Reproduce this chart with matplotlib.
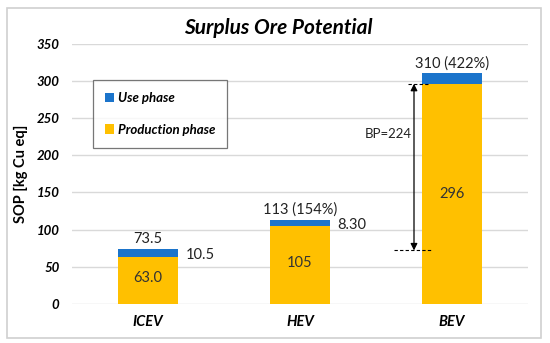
import matplotlib
matplotlib.use("Agg")
import matplotlib.pyplot as plt
from matplotlib.patches import Rectangle

plt.rcParams['font.family'] = ['Lato', 'DejaVu Sans']

categories = ["ICEV", "HEV", "BEV"]
production = [63.0, 105, 296]
use = [10.5, 8.30, 14]
totals = [73.5, 113, 310]
top_labels = ["73.5", "113 (154%)", "310 (422%)"]
prod_labels = ["63.0", "105", "296"]
use_labels = ["10.5", "8.30", None]
bp_top, bp_bottom = 296, 72
bp_label = "BP=224"

blue = "#1B74CB"
yellow = "#FFC000"

fig = plt.figure(figsize=(5.5, 3.43), dpi=100)
fig.patches.append(Rectangle((7/550, 1-338/343), 534/550, 330/343, transform=fig.transFigure,
                             fill=False, edgecolor="#D0D0D0", linewidth=1.2))
ax = fig.add_axes([72/550, 1-304/343, 456/550, (304-43.6)/343])

x = list(range(len(categories)))
w = 0.395
ax.bar(x, production, width=w, color=yellow, label="Production phase", zorder=3)
ax.bar(x, use, width=w, bottom=production, color=blue, label="Use phase", zorder=3)

ax.set_xlim(-0.5, 2.5)
ax.set_ylim(0, 350)
ax.set_yticks(range(0, 351, 50))
ax.grid(axis='y', color="#D9D9D9", linewidth=1, zorder=0)
for s in ax.spines.values():
    s.set_visible(False)
ax.tick_params(length=0)
ax.set_xticks(x)
ax.set_xticklabels(categories, fontsize=10.5, fontweight='bold', fontstyle='italic')
ax.tick_params(axis='x', pad=8)
for lab in ax.get_yticklabels():
    lab.set_fontweight('bold'); lab.set_fontstyle('italic'); lab.set_fontsize(9.5)
ax.tick_params(axis='y', pad=9)
ax.set_ylabel("SOP [kg Cu eq]", fontsize=10.5, fontweight='bold', labelpad=6)

for i in x:
    ax.text(i, totals[i] + 4, top_labels[i], ha='center', va='bottom', fontsize=10.5, color="#222222")
    ax.text(i, production[i] / 2 + (3 if i < 2 else 0), prod_labels[i], ha='center', va='center', fontsize=10.5, color="#333333")
    if use_labels[i]:
        ax.text(i + w/2 + 0.05, totals[i] - 7, use_labels[i], ha='left', va='center', fontsize=10.5, color="#222222")

# BP arrow
ax_x = 1.75
ax.annotate("", xy=(ax_x, bp_bottom), xytext=(ax_x, bp_top),
            arrowprops=dict(arrowstyle="<|-|>", color="black", lw=0.9, mutation_scale=10, shrinkA=0, shrinkB=0), zorder=5)
ax.plot([1.71, 1.84], [bp_top, bp_top], color="black", lw=0.8, linestyle=(0, (3, 2)), zorder=5)
ax.plot([1.62, 1.86], [bp_bottom, bp_bottom], color="black", lw=0.8, linestyle=(0, (3, 2)), zorder=5)
ax.text(1.58, 229, bp_label, ha='center', va='center', fontsize=9.5, color="#222222")

handles, labels = ax.get_legend_handles_labels()
leg = ax.legend(handles[::-1], labels[::-1], loc='upper left', bbox_to_anchor=((93-72)/456, (304-80)/(304-43.6)),
                prop=dict(weight='bold', style='italic', size=9.5), frameon=True, fancybox=False,
                edgecolor="#555555", handlelength=0.7, handleheight=0.7, labelspacing=1.5,
                borderpad=0.9, handletextpad=0.3, borderaxespad=0)
leg.get_frame().set_linewidth(0.9)

fig.text(278/550, 1-28/343, "Surplus Ore Potential", ha='center', va='center', fontsize=15,
         fontweight='bold', fontstyle='italic')

fig.savefig("out.png", dpi=100)
